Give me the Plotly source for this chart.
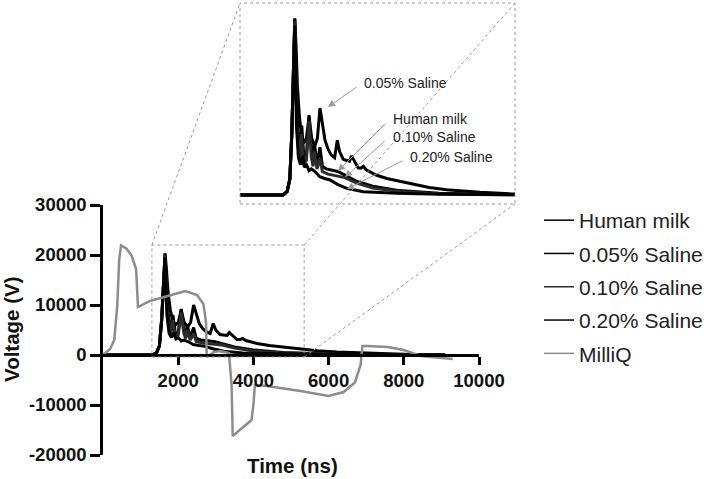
import plotly.graph_objects as go

W, H = 704, 479

# ---------------- data ----------------
hm_t = [0, 1300, 1420, 1500, 1560, 1600, 1650, 1720, 1800, 1860, 1930, 2000, 2080, 2150, 2200, 2240, 2320,
        2410, 2480, 2600, 2750, 2950, 3200, 3500, 4000, 4800, 6000, 7500, 9100]
hm_v = [0, 0, 400, 1800, 7000, 14000, 20300, 9000, 4500, 8000, 4000, 4500, 9200, 5000, 3800, 6000, 3600,
        5500, 3300, 3000, 2900, 2700, 2200, 1600, 1000, 500, 200, 80, 0]

s05_t = [0, 1300, 1420, 1500, 1560, 1600, 1650, 1690, 1730, 1790, 1850, 1920, 2000, 2080, 2160, 2250, 2330,
         2410, 2480, 2560, 2650, 2750, 2850, 2930, 3000, 3110, 3200, 3300, 3360, 3450, 3560, 3650, 3715,
         3800, 3900, 4100, 4420, 4800, 5220, 5700, 6220, 7230, 8200, 9100]
s05_v = [0, 0, 400, 1800, 7000, 14000, 20300, 17000, 12500, 9000, 7000, 6000, 6500, 9000, 6500, 5600, 6500,
         10000, 8000, 6300, 5300, 4600, 4300, 6300, 5000, 4100, 4000, 3900, 4500, 3800, 3100, 3100, 3300,
         2900, 2700, 2300, 1900, 1600, 1200, 850, 600, 300, 120, 0]

s10_t = [0, 1300, 1420, 1500, 1560, 1600, 1650, 1710, 1790, 1850, 1920, 2000, 2080, 2150, 2200, 2240, 2320,
         2410, 2480, 2650, 2900, 3160, 3500, 4000, 4800, 6000, 7500, 9100]
s10_v = [0, 0, 400, 1800, 7000, 14000, 20000, 8000, 3800, 7000, 3500, 4000, 8500, 4300, 3300, 5000, 3000,
         4200, 2700, 2400, 2200, 2000, 1400, 800, 400, 150, 60, 0]

s20_t = [0, 1300, 1420, 1500, 1560, 1600, 1650, 1700, 1757, 1820, 1880, 1940, 2008, 2080, 2150, 2259, 2400,
         2550, 2711, 2950, 3213, 3715, 4719, 6000, 9100]
s20_v = [0, 0, 400, 1800, 7000, 14000, 19500, 8000, 4400, 3500, 4500, 3200, 3450, 2800, 3000, 2690, 2100,
         1900, 1730, 1200, 770, 380, 190, 80, 0]

mq_t = [0, 190, 300, 380, 430, 480, 620, 760, 880, 910, 930, 1250, 1700, 2190, 2500, 2670, 2740, 2760,
        2950, 3120, 3350, 3420, 3450, 3600, 3800, 3950, 4000, 4040, 4360, 5250, 6000, 6400, 6700, 6850,
        6900, 7040, 7570, 8000, 8450, 8990, 9300]
mq_v = [0, 1200, 3000, 10000, 19000, 21900, 21300, 19900, 17200, 13000, 9600, 10800, 11700, 12800, 12000,
        10200, 6600, -400, 600, 800, 400, -6000, -16200, -15200, -14000, -13000, -10000, -6000, -6200,
        -7200, -8200, -7400, -5500, -2000, 1800, 1800, 1600, 1000, -200, -600, -800]

names = ["Human milk", "0.05% Saline", "0.10% Saline", "0.20% Saline", "MilliQ"]
colors = ["#000000", "#000000", "#2b2b2b", "#000000", "#8c8c8c"]

x_ticks = [2000, 4000, 6000, 8000, 10000]
x_tick_text = ["2000", "4000", "6000", "8000", "10000"]
y_ticks = [-20000, -10000, 0, 10000, 20000, 30000]
y_tick_text = ["-20000", "-10000", "0", "10000", "20000", "30000"]

inset_labels = ["0.05% Saline", "Human milk", "0.10% Saline", "0.20% Saline"]

# ---------------- layout geometry (pixels) ----------------
MAIN_X = (103, 479)
MAIN_Y = (205, 455)
INS_X = (240, 515)
INS_Y = (3, 204)
XR = [0, 10000]
YR = [-20000, 30000]
IXR = [0, 8283]
IYR = [-1040, 22100]


def pxx(p):
    return p / W


def pxy(p):
    return 1 - p / H


def main_to_px(t, v):
    x = MAIN_X[0] + (t - XR[0]) / (XR[1] - XR[0]) * (MAIN_X[1] - MAIN_X[0])
    y = MAIN_Y[1] - (v - YR[0]) / (YR[1] - YR[0]) * (MAIN_Y[1] - MAIN_Y[0])
    return x, y


fig = go.Figure()

data = [(hm_t, hm_v), (s05_t, s05_v), (s10_t, s10_v), (s20_t, s20_v), (mq_t, mq_v)]
for (t, v), name, c in zip(data, names, colors):
    w = 2.5 if name == "MilliQ" else 3
    fig.add_trace(go.Scatter(x=t, y=v, mode="lines", line=dict(color=c, width=w),
                             name=name, showlegend=False, xaxis="x", yaxis="y"))
for (t, v), name, c in zip(data[:4], names[:4], colors[:4]):
    fig.add_trace(go.Scatter(x=t, y=v, mode="lines", line=dict(color=c, width=3),
                             name=name, showlegend=False, xaxis="x2", yaxis="y2"))
# legend entries (thin sample lines)
for i, (name, c) in enumerate(zip(names, colors)):
    fig.add_trace(go.Scatter(x=[None], y=[None], mode="lines", line=dict(color=c, width=1.5),
                             name=name, legendgroup=f"g{i}", showlegend=True))

FONT = "Liberation Sans, Arial"
tickfont = dict(family=FONT, size=18.5, color="#111", weight="bold")

zero_pos = pxy(main_to_px(0, 0)[1])

fig.update_layout(
    template="none",
    width=W, height=H, margin=dict(l=0, r=0, t=0, b=0, pad=0, autoexpand=False),
    paper_bgcolor="white", plot_bgcolor="rgba(0,0,0,0)",
    xaxis=dict(domain=[pxx(MAIN_X[0]), pxx(MAIN_X[1])], range=XR, anchor="free", position=zero_pos,
               showline=True, linecolor="black", linewidth=2.5, ticks="outside", ticklen=8,
               tickwidth=2.5, tickcolor="black", tickvals=x_ticks, ticktext=x_tick_text,
               tickfont=tickfont, showgrid=False, zeroline=False, automargin=False),
    yaxis=dict(domain=[pxy(MAIN_Y[1]), pxy(MAIN_Y[0])], range=YR, anchor="x",
               showline=True, linecolor="black", linewidth=2.5, ticks="outside", ticklen=10,
               tickwidth=2.5, tickcolor="black", tickvals=y_ticks, ticktext=y_tick_text,
               tickfont=tickfont, showgrid=False, zeroline=False, automargin=False),
    xaxis2=dict(domain=[pxx(INS_X[0]), pxx(INS_X[1])], range=IXR, anchor="y2", visible=False),
    yaxis2=dict(domain=[pxy(INS_Y[1]), pxy(INS_Y[0])], range=IYR, anchor="x2", visible=False),
    legend=dict(x=pxx(539), y=pxy(200), xanchor="left", yanchor="top", tracegroupgap=3,
                font=dict(family=FONT, size=21, color="#222"),
                bgcolor="rgba(0,0,0,0)", borderwidth=0, itemwidth=30),
    showlegend=True,
)

dot = dict(color="#9a9a9a", width=1, dash="dot")
# zoom box on the main plot
fig.add_shape(type="rect", xref="x", yref="y", x0=1300, x1=5350, y0=-400, y1=22000, line=dot)
# inset border
fig.add_shape(type="rect", xref="paper", yref="paper", x0=pxx(INS_X[0]), x1=pxx(INS_X[1]),
              y0=pxy(INS_Y[1]), y1=pxy(INS_Y[0]), line=dot)
# connector lines
tl = main_to_px(1300, 22000)
tr = main_to_px(5350, 22000)
br = main_to_px(5350, -400)
for (a, b) in [(tl, (INS_X[0], INS_Y[0])), (tr, (INS_X[1], INS_Y[0])), (br, (INS_X[1], INS_Y[1]))]:
    fig.add_shape(type="line", xref="paper", yref="paper", x0=pxx(a[0]), y0=pxy(a[1]),
                  x1=pxx(b[0]), y1=pxy(b[1]), line=dot)

titlefont = dict(family=FONT, size=20.5, color="#111", weight="bold")
fig.add_annotation(text="Time (ns)", xref="paper", yref="paper", x=pxx(292), y=pxy(465),
                   showarrow=False, font=titlefont, xanchor="center", yanchor="middle")
fig.add_annotation(text="Voltage (V)", xref="paper", yref="paper", x=pxx(11), y=pxy(329),
                   showarrow=False, font=titlefont, textangle=-90, xanchor="center", yanchor="middle")

# inset annotations: label text positions (px) and arrows (tail px -> head px)
lab_font = dict(family=FONT, size=14, color="#222")
label_pos = [(362, 83), (391, 119), (391, 137), (408, 157)]
arrows = [((358, 86), (328, 107)), ((387, 122), (338, 171)), ((386, 140), (345, 177)), ((404, 160), (347, 189))]
for txt, (lx, ly), (tail, head) in zip(inset_labels, label_pos, arrows):
    fig.add_annotation(text=txt, xref="paper", yref="paper", x=pxx(lx), y=pxy(ly), showarrow=False,
                       font=lab_font, xanchor="left", yanchor="middle")
    fig.add_annotation(text="", xref="paper", yref="paper", x=pxx(head[0]), y=pxy(head[1]),
                       ax=tail[0] - head[0], ay=tail[1] - head[1], axref="pixel", ayref="pixel",
                       showarrow=True, arrowhead=2, arrowsize=1.4, arrowwidth=1, arrowcolor="#9a9a9a")

fig.write_html("out.html")
